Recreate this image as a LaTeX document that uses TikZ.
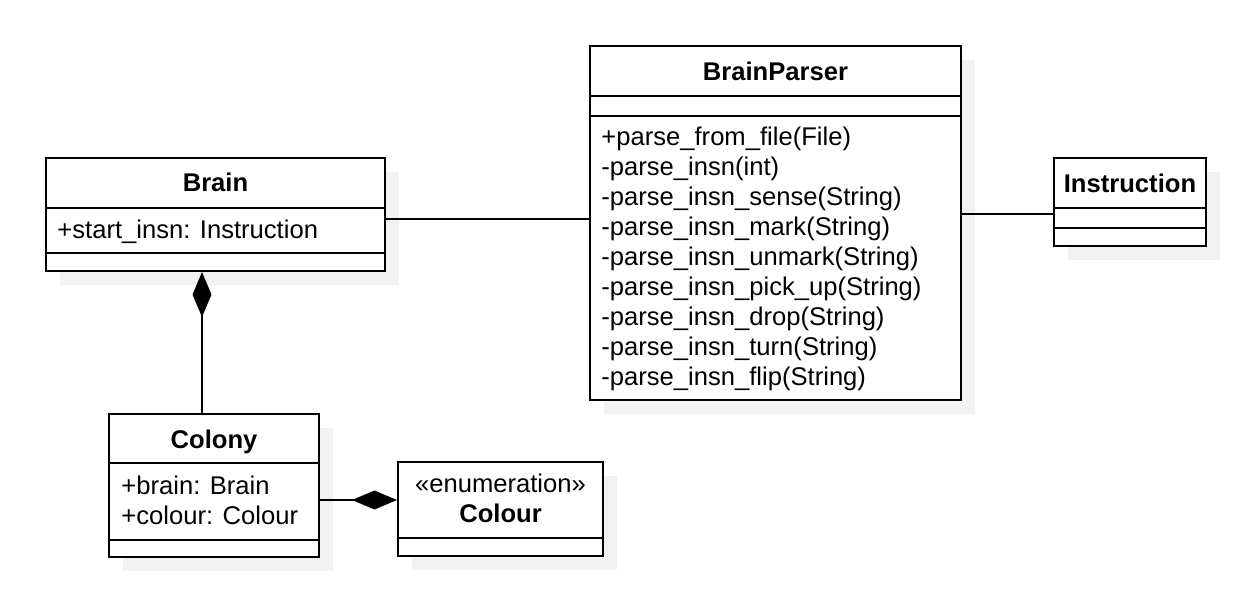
\documentclass[tikz,border=0pt]{standalone}
\usepackage{fontspec}
\setmainfont{Liberation Sans}
\usetikzlibrary{arrows.meta}
\usetikzlibrary{fit}
\usetikzlibrary{shadows}

\begin{document}
\begin{tikzpicture}[x=0.5pt,y=-0.5pt,
  classbox/.style={draw, line width=1pt, fill=white, inner sep=0pt,
    drop shadow={shadow xshift=7pt, shadow yshift=-7pt, fill=black!5, opacity=1}},
  umltext/.style={font=\fontsize{12.8}{15}\selectfont, inner sep=0pt},
  title/.style={inner sep=0pt, font=\fontsize{12.8}{15}\selectfont\bfseries, anchor=base},
  member/.style={umltext, anchor=base west},
  link/.style={line width=1pt},
  compose/.style={link, -{Diamond[length=22.5pt, width=9.5pt]}}]
\useasboundingbox (0,0) rectangle (1248,602);
% class boxes
\node[classbox, fit={(46,158) (385,271)}] (brain) {};
\node[classbox, fit={(590,46) (961,400)}] (parser) {};
\node[classbox, fit={(1054,158) (1206,246)}] (insn) {};
\node[classbox, fit={(109,414) (319,557)}] (colony) {};
\node[classbox, fit={(398,462) (603,556)}] (colour) {};
% compartments
\draw[link] (46,208) -- (385,208);
\draw[link] (46,253) -- (385,253);
\draw[link] (590,96) -- (961,96);
\draw[link] (590,116) -- (961,116);
\draw[link] (1054,208) -- (1206,208);
\draw[link] (1054,228) -- (1206,228);
\draw[link] (109,463) -- (319,463);
\draw[link] (109,540) -- (319,540);
\draw[link] (398,538) -- (603,538);
% texts
\node[title] (braintitle) at (215.5,191) {Brain};
\node[member] (brainattr) at (57,238) {+start\_insn: Instruction};
\node[title] (parsertitle) at (775.5,80) {BrainParser};
\foreach \m [count=\i] in {+parse\_from\_file(File), -parse\_insn(int),
  -parse\_insn\_sense(String), -parse\_insn\_mark(String),
  -parse\_insn\_unmark(String), -parse\_insn\_pick\_up(String),
  -parse\_insn\_drop(String), -parse\_insn\_turn(String),
  -parse\_insn\_flip(String)}
  \node[member] (parserop\i) at (601,{115+30*\i}) {\m};
\node[title] (insntitle) at (1130,192) {Instruction};
\node[title] (colonytitle) at (214,448) {Colony};
\node[member] (colonyattr1) at (121,494) {+brain: Brain};
\node[member] (colonyattr2) at (121,524) {+colour: Colour};
\node[umltext, anchor=base] (colourstereo) at (500.5,492) {«enumeration»};
\node[title] (colourtitle) at (500.5,522) {Colour};
% connectors
\coordinate (bplink) at (0,219);
\coordinate (pilink) at (0,214);
\coordinate (bclink) at (202,0);
\coordinate (cclink) at (0,500);
\draw[link] (brain.east |- bplink) -- (parser.west |- bplink);
\draw[link] (parser.east |- pilink) -- (insn.west |- pilink);
\draw[compose] (colony.north -| bclink) -- (brain.south -| bclink);
\draw[compose] (colony.east |- cclink) -- (colour.west |- cclink);
\end{tikzpicture}
\end{document}
